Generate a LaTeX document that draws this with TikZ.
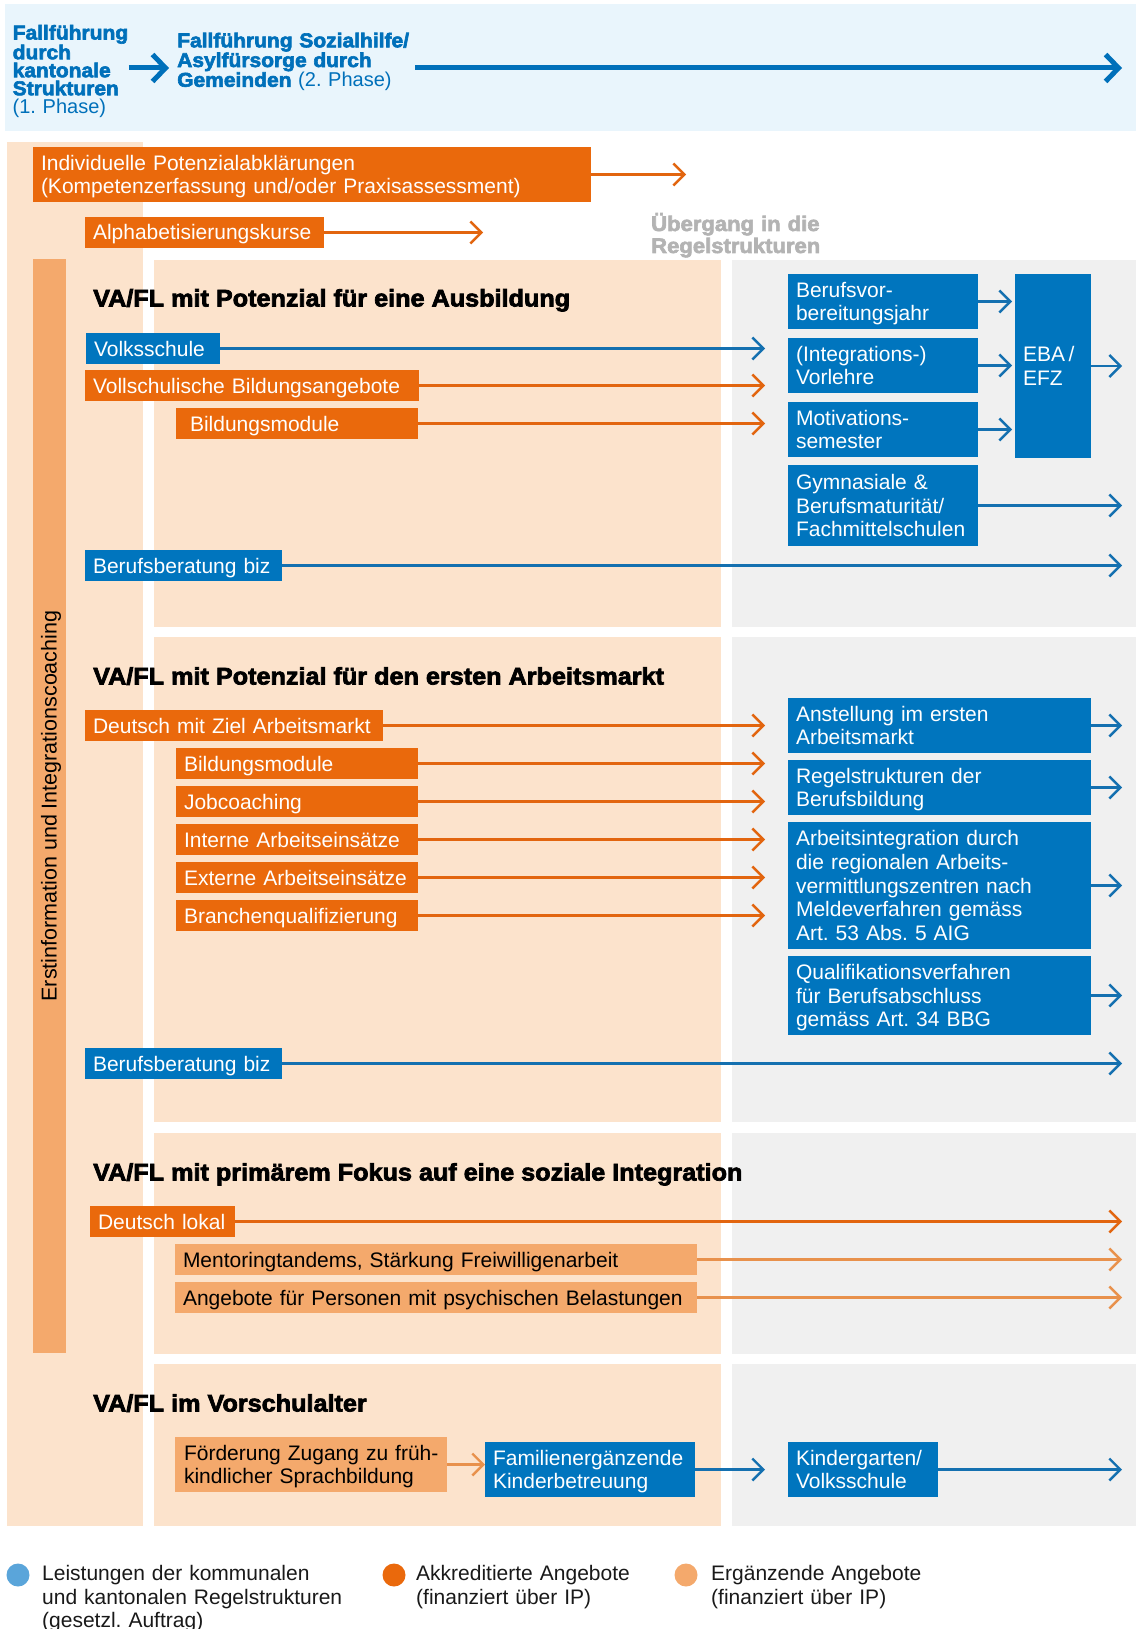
\documentclass[tikz,border=0pt]{standalone}
\usepackage{fontspec}
\setmainfont{Liberation Sans}
\newfontfamily\heavyfont{Liberation Sans}[FakeStretch=1.05,FakeBold=3]
\usetikzlibrary{arrows.meta}
\definecolor{cblue}{HTML}{0075BE}
\definecolor{cbline}{HTML}{1470B0}
\definecolor{corange}{HTML}{EA690C}
\definecolor{coline}{HTML}{E2650F}
\definecolor{clight}{HTML}{F4A96C}
\definecolor{clline}{HTML}{E8914C}
\definecolor{cpeach}{HTML}{FCE3CC}
\definecolor{cgray}{HTML}{F0F0F0}
\definecolor{cband}{HTML}{E9F5FC}
\definecolor{ctop}{HTML}{0070BA}
\definecolor{cgraytxt}{HTML}{B3B3B3}
\definecolor{cdotblue}{HTML}{5AA5DA}
\frenchspacing
\begin{document}
\begin{tikzpicture}[x=1pt,y=-1pt,
  every node/.append style={execute at begin node={\hyphenpenalty=10000\exhyphenpenalty=10000\frenchspacing}},
  bx/.style={anchor=north west, inner xsep=8pt, inner ysep=0pt, outer sep=0pt, align=left,
    font=\fontsize{21}{23.7}\selectfont, text height=15pt, text depth=0pt, minimum height=31pt},
  bb/.style={bx, fill=cblue, text=white},
  ob/.style={bx, fill=corange, text=white},
  lb/.style={bx, fill=clight, text=black},
  ltwo/.style={text depth=23.7pt, minimum height=55pt},
  lthree/.style={text depth=47.4pt},
  lfive/.style={text depth=94.8pt},
  ttl/.style={anchor=west, inner sep=0pt, font=\heavyfont\bfseries\fontsize{24}{28}\selectfont,
    text height=17pt, text depth=0pt},
  tl/.style={anchor=base west, inner sep=0pt, align=left, text=ctop, font=\fontsize{20}{18}\selectfont},
  lg/.style={anchor=north west, inner sep=0pt, align=left, text width=400pt,
    font=\fontsize{21}{23.5}\selectfont, text height=15pt, text depth=0pt, text=black!90},
  ldot/.style={circle, minimum size=23pt, inner sep=0pt},
  barr/.style={draw=cbline, line width=2.4pt, -{Straight Barb[length=11pt,width=22pt]}},
  oarr/.style={draw=coline, line width=2.4pt, -{Straight Barb[length=11pt,width=22pt]}},
  larr/.style={draw=clline, line width=2.4pt, -{Straight Barb[length=11pt,width=22pt]}},
  tarr/.style={draw=ctop, line width=5pt, -{Straight Barb[length=13pt,width=27pt]}}
]
\useasboundingbox (0,0) rectangle (1136,1629);
% backgrounds
\fill[cband] (5,4) rectangle (1136,131);
\fill[cpeach] (7,142) rectangle (143,1526);
\foreach \ya/\yb in {260/627, 637/1122, 1133/1354, 1364/1526}{
  \fill[cpeach] (154,\ya) rectangle (721,\yb);
  \fill[cgray] (732,\ya) rectangle (1136,\yb);
}
\fill[clight] (33,259) rectangle (66,1353);
\node[rotate=90, inner sep=0pt, font=\fontsize{21.5}{24}\selectfont] (erst) at (51,806) {Erstinformation und Integrationscoaching};

% coordinates for free ends
\coordinate (ya) at (0,68);
\coordinate (endtop) at (1122,68);
\coordinate (t1) at (686,0);
\coordinate (t2) at (483,0);
\coordinate (xm) at (765,0);
\coordinate (xe) at (1122,0);

% top band
\node[tl, text width=116pt] (fb1) at (12.5,39.5) {{\heavyfont\bfseries Fallführung\\durch\\kantonale\\Strukturen}\\(1. Phase)};
\node[tl, text width=238pt] (fb2) at (177,47.3) {{\heavyfont\bfseries Fallführung Sozialhilfe/\\Asylfürsorge durch\\Gemeinden} (2. Phase)};
\draw[tarr, shorten >=8pt] (fb1.east |- ya) -- (fb2.west |- ya);
\draw[tarr] (fb2.east |- ya) -- (endtop);

% top items
\node[ob, ltwo, text width=542pt] (indiv) at (33,147) {Individuelle Potenzialabklärungen\\(Kompetenzerfassung und/oder Praxisassessment)};
\node[ob, text width=223pt] (alpha) at (85,217) {Alphabetisierungskurse};
\draw[oarr] (indiv.east) -- (indiv.east -| t1);
\draw[oarr] (alpha.east) -- (alpha.east -| t2);
\node[anchor=base west, inner sep=0pt, align=left, text width=200pt, text=cgraytxt,
  font=\heavyfont\bfseries\fontsize{21}{22}\selectfont] (ueb) at (651,231) {Übergang in die\\Regelstrukturen};

% section 1
\node[ttl] (title1) at (93,298) {VA/FL mit Potenzial für eine Ausbildung};
\node[bb, text width=118pt] (volks) at (86,333) {Volksschule};
\node[ob, text width=318pt] (vollsch) at (85,370) {Vollschulische Bildungsangebote};
\node[ob, inner xsep=14pt, text width=214pt] (bmod1) at (176,408) {Bildungsmodule};
\node[bb, text width=181pt] (biz1) at (85,550) {Berufsberatung biz};
\draw[barr] (volks.east) -- (volks.east -| xm);
\draw[oarr] (vollsch.east) -- (vollsch.east -| xm);
\draw[oarr] (bmod1.east) -- (bmod1.east -| xm);
\draw[barr] (biz1.east) -- (biz1.east -| xe);

\node[bb, ltwo, text width=174pt] (bvj) at (788,274) {Berufsvor-\\bereitungsjahr};
\node[bb, ltwo, text width=174pt] (vorl) at (788,338) {(Integrations-)\\Vorlehre};
\node[bb, ltwo, text width=174pt] (motiv) at (788,402) {Motivations-\\semester};
\node[bb, lthree, minimum height=81pt, text width=174pt] (gymn) at (788,465) {Gymnasiale \&\\Berufsmaturität/\\Fachmittelschulen};
\node[bb, ltwo, minimum height=184pt, text width=60pt] (eba) at (1015,274) {EBA\,/\\EFZ};
\draw[barr, shorten >=3pt] (bvj.east) -- (bvj.east -| eba.west);
\draw[barr, shorten >=3pt] (vorl.east) -- (vorl.east -| eba.west);
\draw[barr, shorten >=3pt] (motiv.east) -- (motiv.east -| eba.west);
\draw[barr] (eba.east) -- (eba.east -| xe);
\draw[barr] (gymn.east) -- (gymn.east -| xe);

% section 2
\node[ttl] (title2) at (93,676) {VA/FL mit Potenzial für den ersten Arbeitsmarkt};
\node[ob, text width=282pt] (deutschA) at (85,710) {Deutsch mit Ziel Arbeitsmarkt};
\node[ob, text width=226pt] (bmod2) at (176,748) {Bildungsmodule};
\node[ob, text width=226pt] (jobc) at (176,786) {Jobcoaching};
\node[ob, text width=226pt] (intern) at (176,824) {Interne Arbeitseinsätze};
\node[ob, text width=226pt] (extern) at (176,862) {Externe Arbeitseinsätze};
\node[ob, text width=226pt] (branch) at (176,900) {Branchenqualifizierung};
\node[bb, text width=181pt] (biz2) at (85,1048) {Berufsberatung biz};
\foreach \n in {deutschA,bmod2,jobc,intern,extern,branch}{
  \draw[oarr] (\n.east) -- (\n.east -| xm);
}
\draw[barr] (biz2.east) -- (biz2.east -| xe);

\node[bb, ltwo, text width=287pt] (anst) at (788,698) {Anstellung im ersten\\Arbeitsmarkt};
\node[bb, ltwo, text width=287pt] (regel) at (788,760) {Regelstrukturen der\\Berufsbildung};
\node[bb, lfive, minimum height=127pt, text width=287pt] (arbint) at (788,822) {Arbeitsintegration durch\\die regionalen Arbeits-\\vermittlungszentren nach\\Meldeverfahren gemäss\\Art.~53 Abs.~5 AIG};
\node[bb, lthree, minimum height=79pt, text width=287pt] (qual) at (788,956) {Qualifikationsverfahren\\für Berufsabschluss\\gemäss Art.~34 BBG};
\foreach \n in {anst,regel,arbint,qual}{
  \draw[barr] (\n.east) -- (\n.east -| xe);
}

% section 3
\node[ttl] (title3) at (93,1172) {VA/FL mit primärem Fokus auf eine soziale Integration};
\node[ob, text width=129pt] (deutschL) at (90,1206) {Deutsch lokal};
\node[lb, text width=506pt] (mentor) at (175,1244) {Mentoringtandems, Stärkung Freiwilligenarbeit};
\node[lb, text width=506pt] (angeb) at (175,1282) {Angebote für Personen mit psychischen Belastungen};
\draw[oarr] (deutschL.east) -- (deutschL.east -| xe);
\draw[larr] (mentor.east) -- (mentor.east -| xe);
\draw[larr] (angeb.east) -- (angeb.east -| xe);

% section 4
\node[ttl] (title4) at (93,1403) {VA/FL im Vorschulalter};
\node[lb, ltwo, inner xsep=9pt, text width=254pt] (foerd) at (175,1437) {\mbox{Förderung Zugang zu früh-}\\kindlicher Sprachbildung};
\node[bb, ltwo, text width=194pt] (famil) at (485,1442) {Familienergänzende\\Kinderbetreuung};
\node[bb, ltwo, text width=134pt] (kind) at (788,1442) {Kindergarten/\\Volksschule};
\draw[larr] (foerd.east) -- (foerd.east -| famil.west);
\draw[barr] (famil.east) -- (famil.east -| xm);
\draw[barr] (kind.east) -- (kind.east -| xe);

% legend
\node[ldot, fill=cdotblue] (d1) at (18,1575) {};
\node[ldot, fill=corange] (d2) at (394,1575) {};
\node[ldot, fill=clight] (d3) at (686,1575) {};
\node[lg] (l1) at (42,1565.5) {Leistungen der kommunalen\\und kantonalen Regelstrukturen\\(gesetzl. Auftrag)};
\node[lg] (l2) at (416,1565.5) {Akkreditierte Angebote\\(finanziert über IP)};
\node[lg] (l3) at (711,1565.5) {Ergänzende Angebote\\(finanziert über IP)};
\end{tikzpicture}
\end{document}
